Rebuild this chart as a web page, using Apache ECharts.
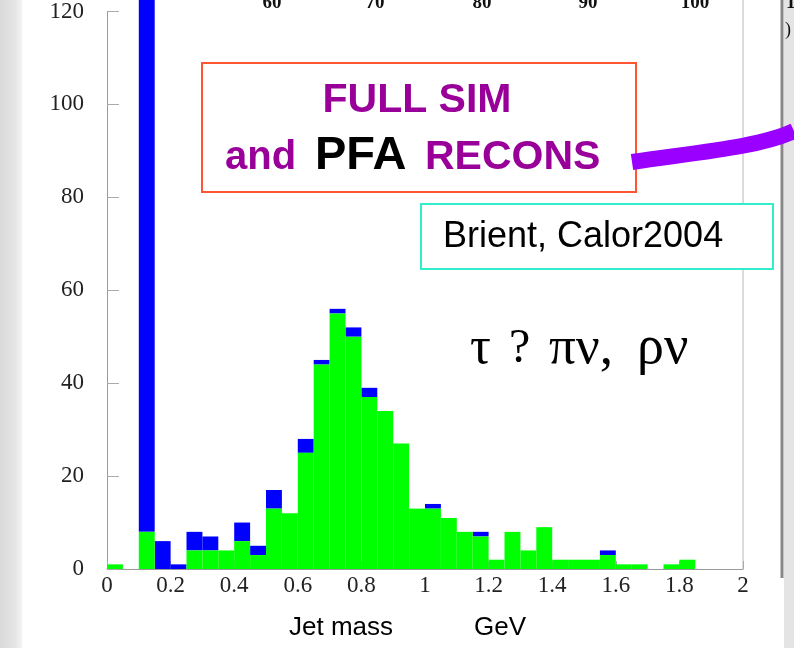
<!DOCTYPE html>
<html lang="en">
<head>
    <meta charset="UTF-8">
    <title>Jet mass</title>
    <script type="text/javascript" src="https://cdn.jsdelivr.net/npm/echarts/dist/echarts.min.js"></script>
    <style>
        body { margin: 0; background: #fff; }
    </style>
</head>
<body>
    <div id="hist" style="width: 794px;height:648px;"></div>
    <script>
        // bin left edges (GeV), each bin 0.05 wide
        var binWidth = 0.05;
        var binStart = [0, 0.05, 0.1, 0.15, 0.2, 0.25, 0.3, 0.35, 0.4, 0.45,
                        0.5, 0.55, 0.6, 0.65, 0.7, 0.75, 0.8, 0.85, 0.9, 0.95,
                        1, 1.05, 1.1, 1.15, 1.2, 1.25, 1.3, 1.35, 1.4, 1.45,
                        1.5, 1.55, 1.6, 1.65, 1.7, 1.75, 1.8, 1.85, 1.9, 1.95];
        // green part of each bin
        var greenCounts = [1, 0, 8, 0, 0, 4, 4, 4, 6, 3,
                           13, 12, 25, 44, 55, 50, 37, 34, 27, 13,
                           13, 11, 8, 7, 2, 8, 4, 9, 2, 2,
                           2, 3, 1, 1, 0, 1, 2, 0, 0, 0];
        // blue part stacked on top of the green
        var blueCounts = [0, 0, 150, 6, 1, 4, 3, 0, 4, 2,
                          4, 0, 3, 1, 1, 2, 2, 0, 0, 0,
                          1, 0, 0, 1, 0, 0, 0, 0, 0, 0,
                          0, 1, 0, 0, 0, 0, 0, 0, 0, 0];
        var xTicks = [0, 0.2, 0.4, 0.6, 0.8, 1, 1.2, 1.4, 1.6, 1.8, 2];
        var yTicks = [0, 20, 40, 60, 80, 100, 120];

        var greenData = [], blueData = [];
        for (var i = 0; i < binStart.length; i++) {
            greenData.push([binStart[i], binStart[i] + binWidth, 0, greenCounts[i]]);
            blueData.push([binStart[i], binStart[i] + binWidth, greenCounts[i], greenCounts[i] + blueCounts[i]]);
        }

        function drawBin(params, api) {
            if (api.value(3) <= api.value(2)) return;
            var p0 = api.coord([api.value(0), api.value(3)]);
            var p1 = api.coord([api.value(1), api.value(2)]);
            var shape = echarts.graphic.clipRectByRect({
                x: p0[0], y: p0[1], width: p1[0] - p0[0], height: p1[1] - p0[1]
            }, {
                x: params.coordSys.x, y: params.coordSys.y - 20,
                width: params.coordSys.width, height: params.coordSys.height + 20
            });
            return shape && { type: 'rect', shape: shape, style: api.style() };
        }

        var serif = '"Liberation Serif", "DejaVu Serif", serif';
        var sans = '"Liberation Sans", Arial, sans-serif';

        function label(x, y, text, font, color) {
            return { type: 'text', x: x, y: y, style: { text: text, font: font, fill: color || '#000', align: 'left', verticalAlign: 'middle' } };
        }

        var chart = echarts.init(document.getElementById('hist'));
        var option = {
            animation: false,
            grid: { left: 107, right: 51, top: 10, bottom: 79 },
            xAxis: {
                type: 'value', min: xTicks[0], max: xTicks[xTicks.length - 1], interval: 0.2,
                splitLine: { show: false },
                axisLine: { lineStyle: { color: '#999', width: 1 } },
                axisTick: { inside: true, length: 8, lineStyle: { color: '#aaa' } },
                axisLabel: { fontFamily: serif, fontSize: 23, color: '#222', margin: 5 }
            },
            yAxis: {
                type: 'value', min: yTicks[0], max: yTicks[yTicks.length - 1], interval: 20,
                splitLine: { show: false },
                axisLine: { show: true, lineStyle: { color: '#999', width: 1 } },
                axisTick: { show: true, inside: true, length: 12, lineStyle: { color: '#aaa' } },
                axisLabel: { fontFamily: serif, fontSize: 23, color: '#222', margin: 23 }
            },
            series: [{
                name: 'blue', type: 'custom', renderItem: drawBin,
                itemStyle: { color: '#0000ff' },
                encode: { x: [0, 1], y: [2, 3] },
                data: blueData
            }, {
                name: 'green', type: 'custom', renderItem: drawBin,
                itemStyle: { color: '#00ff00' },
                encode: { x: [0, 1], y: [2, 3] },
                data: greenData
            }],
            graphic: [
                { type: 'rect', left: 0, top: 0, shape: { width: 22, height: 648 }, z: 0,
                  style: { fill: new echarts.graphic.LinearGradient(0, 0, 1, 0, [
                      { offset: 0, color: '#d9d9d9' }, { offset: 0.7, color: '#e6e6e6' }, { offset: 1, color: '#f4f4f4' }]) } },
                { type: 'line', shape: { x1: 743, y1: 0, x2: 743, y2: 569 }, style: { stroke: '#cfcfcf', lineWidth: 1.5 } },
                { type: 'rect', shape: { x: 784, y: 0, width: 10, height: 648 }, style: { fill: '#e4e4e4' } },
                { type: 'line', shape: { x1: 782, y1: 0, x2: 782, y2: 578 }, style: { stroke: '#888', lineWidth: 3 } },
                { type: 'text', x: 272, y: 3, style: { text: '60', font: 'bold 19px ' + serif, fill: '#111', align: 'center', verticalAlign: 'middle' } },
                { type: 'text', x: 375, y: 3, style: { text: '70', font: 'bold 19px ' + serif, fill: '#111', align: 'center', verticalAlign: 'middle' } },
                { type: 'text', x: 482, y: 3, style: { text: '80', font: 'bold 19px ' + serif, fill: '#111', align: 'center', verticalAlign: 'middle' } },
                { type: 'text', x: 588, y: 3, style: { text: '90', font: 'bold 19px ' + serif, fill: '#111', align: 'center', verticalAlign: 'middle' } },
                { type: 'text', x: 695, y: 3, style: { text: '100', font: 'bold 19px ' + serif, fill: '#111', align: 'center', verticalAlign: 'middle' } },
                label(786, 3, '1', 'bold 19px ' + serif, '#111'),
                label(785, 30, ')', '18px ' + serif, '#111'),
                // red box
                { type: 'rect', shape: { x: 202, y: 63, width: 434, height: 129 }, style: { fill: '#fff', stroke: '#ff5533', lineWidth: 2 } },
                { type: 'text', x: 417, y: 101, style: { text: 'FULL SIM', font: 'bold 41px ' + sans, fill: '#990099', align: 'center', verticalAlign: 'middle' } },
                label(225, 158, 'and', 'bold 40px ' + sans, '#990099'),
                label(315, 156, 'PFA', 'bold 47px ' + sans, '#000'),
                label(425, 158, 'RECONS', 'bold 41px ' + sans, '#990099'),
                // purple pointer stroke
                { type: 'bezierCurve', shape: { x1: 632, y1: 162, cpx1: 700, cpy1: 152, cpx2: 760, cpy2: 147, x2: 794, y2: 131 },
                  style: { stroke: '#9900ff', lineWidth: 16, fill: null } },
                // cyan box
                { type: 'rect', shape: { x: 421, y: 204, width: 352, height: 65 }, style: { fill: '#fff', stroke: '#33eecc', lineWidth: 2 } },
                label(443, 237, 'Brient, Calor2004', '36px ' + sans),
                // decay label
                label(470, 349, 'τ', '52px ' + serif),
                label(509, 349, '?', '48px ' + serif),
                label(549, 349, 'πν,', '53px ' + serif),
                label(637, 349, 'ρν', '54px ' + serif),
                label(289, 628, 'Jet mass', '26px ' + sans),
                label(474, 628, 'GeV', '26px ' + sans)
            ]
        };
        chart.setOption(option);
    </script>
</body>
</html>
